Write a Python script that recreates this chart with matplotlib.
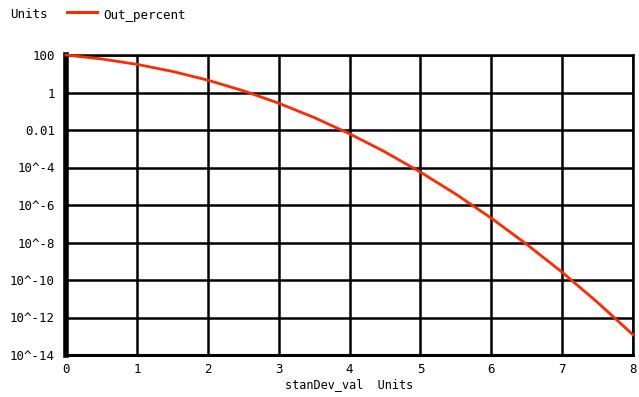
import matplotlib
matplotlib.use("Agg")
import matplotlib.pyplot as plt
from matplotlib.lines import Line2D

x_vals = [0, 0.5, 1, 1.5, 2, 2.5, 3, 3.5, 4, 4.5, 5, 5.5, 6, 6.5, 7, 7.5, 8]
out_percent = [100, 61.7, 31.7, 13.4, 4.55, 1.24, 0.27, 0.0465, 0.0063,
               6.8e-4, 5.7e-5, 3.8e-6, 2.0e-7, 8.0e-9, 2.6e-10, 6.4e-12, 1.2e-13]
x_ticks = [0, 1, 2, 3, 4, 5, 6, 7, 8]
y_ticks = [1e2, 1, 1e-2, 1e-4, 1e-6, 1e-8, 1e-10, 1e-12, 1e-14]
y_tick_labels = ["100", "1", "0.01", "10^-4", "10^-6", "10^-8", "10^-10", "10^-12", "10^-14"]

FONT = "DejaVu Sans Mono"
FS = 9
RED = "#ff2a00"

fig = plt.figure(figsize=(6.39, 3.97), dpi=100)
ax = fig.add_axes([66/639, 1-355/397, (633-66)/639, (355-55)/397])

ax.plot(x_vals, out_percent, color=RED, lw=2.0, zorder=3, clip_on=False)
ax.set_yscale("log")
ax.set_xlim(0, 8)
ax.set_ylim(1e-14, 1e2)
ax.set_xticks(x_ticks)
ax.set_xticklabels([str(t) for t in x_ticks], fontfamily=FONT, fontsize=FS)
ax.set_yticks(y_ticks)
ax.set_yticklabels(y_tick_labels, fontfamily=FONT, fontsize=FS)
ax.minorticks_off()
ax.tick_params(axis="y", length=0, pad=8)
ax.tick_params(axis="x", length=0, pad=6)
ax.grid(True, color="black", lw=1.8)
for s in ["top", "right"]:
    ax.spines[s].set_linewidth(1.8)
ax.spines["left"].set_linewidth(4)
ax.spines["bottom"].set_linewidth(2.2)
ax.set_xlabel("stanDev_val  Units", fontfamily=FONT, fontsize=8.5, labelpad=1)

fig.text(10/639, 1-15/397, "Units", fontfamily=FONT, fontsize=FS, va="center")
fig.add_artist(Line2D([67/639, 97/639], [1-12/397, 1-12/397], color=RED, lw=2.2))
fig.text(103/639, 1-15/397, "Out_percent", fontfamily=FONT, fontsize=FS, va="center")

fig.savefig("out.png", dpi=100)
